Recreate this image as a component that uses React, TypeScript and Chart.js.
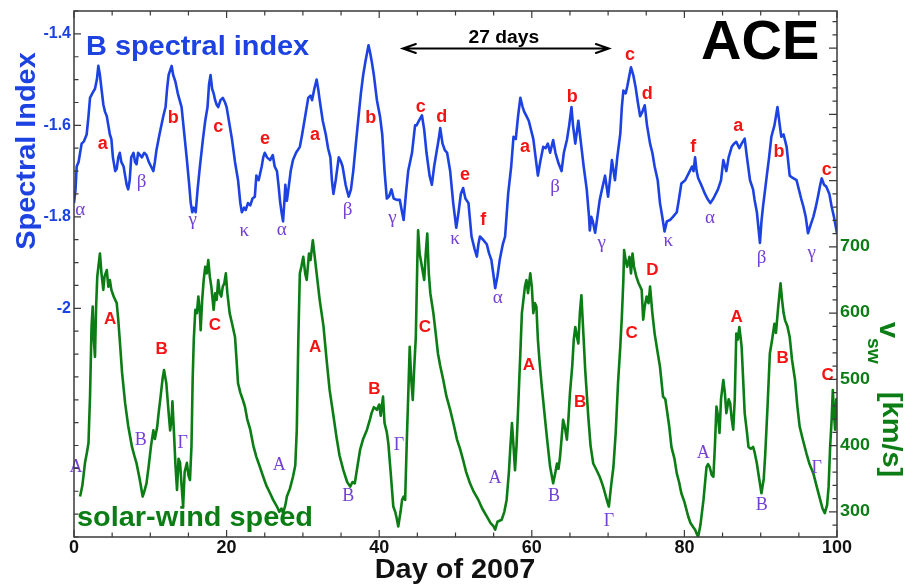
import React, { useEffect, useRef } from "react";
import { Chart, registerables } from "chart.js";

Chart.register(...registerables);

// Magnetic-field spectral index, [day of 2007, index]
const spectralSeries: [number, number][] = [
  [0.0, -1.77], [0.2, -1.74], [0.35, -1.69], [0.6, -1.68], [0.8, -1.66], [1.0, -1.64], [1.3, -1.635],
  [1.66, -1.62], [1.9, -1.58], [2.1, -1.54], [2.4, -1.53], [2.75, -1.52], [3.0, -1.5], [3.19, -1.47],
  [3.4, -1.49], [3.6, -1.52], [3.85, -1.555], [4.06, -1.57], [4.3, -1.58], [4.5, -1.6], [4.7, -1.62],
  [4.9, -1.63], [5.1, -1.67], [5.4, -1.7], [5.6, -1.695], [5.8, -1.67], [6.0, -1.66], [6.2, -1.68],
  [6.5, -1.69], [6.7, -1.71], [6.9, -1.73], [7.1, -1.74], [7.3, -1.72], [7.5, -1.67], [7.8, -1.66],
  [8.0, -1.68], [8.2, -1.685], [8.4, -1.66], [8.65, -1.665], [8.9, -1.67], [9.2, -1.66], [9.5, -1.665],
  [9.8, -1.68], [10.1, -1.69], [10.4, -1.7], [10.6, -1.68], [10.8, -1.655], [11.2, -1.62], [11.7, -1.58],
  [12.0, -1.56], [12.2, -1.52], [12.4, -1.49], [12.6, -1.48], [12.8, -1.47], [13.0, -1.49], [13.3, -1.505],
  [13.6, -1.53], [14.1, -1.56], [14.4, -1.61], [14.8, -1.676], [15.1, -1.73], [15.3, -1.77], [15.5, -1.79],
  [15.7, -1.78], [15.95, -1.79], [16.2, -1.74], [16.5, -1.69], [16.9, -1.63], [17.2, -1.59], [17.5, -1.56],
  [17.7, -1.51], [17.9, -1.49], [18.1, -1.52], [18.3, -1.53], [18.5, -1.545], [18.7, -1.555], [18.9, -1.56],
  [19.2, -1.545], [19.5, -1.54], [19.8, -1.55], [20.0, -1.56], [20.4, -1.6], [20.7, -1.63], [21.1, -1.68],
  [21.5, -1.72], [21.8, -1.77], [22.0, -1.79], [22.3, -1.78], [22.5, -1.785], [22.8, -1.77], [23.1, -1.775],
  [23.4, -1.76], [23.7, -1.756], [23.9, -1.71], [24.2, -1.72], [24.6, -1.69], [24.8, -1.67], [25.0, -1.66],
  [25.3, -1.67], [25.7, -1.676], [26.05, -1.665], [26.3, -1.69], [26.6, -1.7], [26.8, -1.73], [27.0, -1.765],
  [27.2, -1.79], [27.4, -1.81], [27.6, -1.76], [27.7, -1.73], [27.9, -1.765], [28.1, -1.74], [28.4, -1.7],
  [28.7, -1.676], [29.1, -1.66], [29.6, -1.647], [29.9, -1.62], [30.3, -1.58], [30.7, -1.54], [31.0, -1.535],
  [31.2, -1.545], [31.5, -1.52], [31.8, -1.5], [32.0, -1.52], [32.2, -1.545], [32.6, -1.59], [33.0, -1.62],
  [33.3, -1.65], [33.6, -1.67], [33.8, -1.72], [34.0, -1.75], [34.3, -1.72], [34.7, -1.67], [35.0, -1.68],
  [35.2, -1.69], [35.6, -1.73], [36.0, -1.756], [36.3, -1.74], [36.6, -1.7], [37.0, -1.63], [37.3, -1.58],
  [37.6, -1.53], [37.9, -1.49], [38.2, -1.46], [38.6, -1.425], [38.8, -1.44], [39.0, -1.458], [39.3, -1.49],
  [39.7, -1.545], [40.1, -1.58], [40.4, -1.62], [40.7, -1.7], [41.0, -1.76], [41.3, -1.755], [41.6, -1.74],
  [41.9, -1.76], [42.3, -1.763], [42.7, -1.763], [43.0, -1.79], [43.2, -1.807], [43.5, -1.75], [43.8, -1.7],
  [44.3, -1.66], [44.7, -1.6], [44.9, -1.6], [45.2, -1.59], [45.6, -1.578], [45.9, -1.61], [46.2, -1.66],
  [46.6, -1.71], [46.9, -1.73], [47.2, -1.69], [47.5, -1.66], [47.8, -1.63], [48.0, -1.606], [48.3, -1.64],
  [48.6, -1.654], [48.9, -1.66], [49.3, -1.7], [49.7, -1.77], [50.1, -1.824], [50.4, -1.79], [50.7, -1.75],
  [51.0, -1.737], [51.3, -1.76], [51.7, -1.77], [52.1, -1.843], [52.5, -1.87], [52.8, -1.887], [53.0, -1.86],
  [53.2, -1.843], [53.6, -1.85], [54.1, -1.86], [54.4, -1.88], [54.7, -1.894], [55.0, -1.93], [55.2, -1.956],
  [55.5, -1.93], [55.8, -1.894], [56.2, -1.86], [56.5, -1.843], [56.9, -1.75], [57.3, -1.69], [57.6, -1.625],
  [57.9, -1.63], [58.2, -1.58], [58.5, -1.54], [58.8, -1.56], [59.0, -1.57], [59.3, -1.58], [59.6, -1.59],
  [59.9, -1.61], [60.2, -1.63], [60.5, -1.67], [60.8, -1.71], [61.1, -1.68], [61.5, -1.647], [61.8, -1.65],
  [62.1, -1.64], [62.4, -1.66], [62.8, -1.632], [63.1, -1.66], [63.5, -1.683], [63.9, -1.7], [64.2, -1.66],
  [64.6, -1.632], [64.9, -1.6], [65.2, -1.56], [65.4, -1.6], [65.7, -1.64], [66.1, -1.59], [66.5, -1.647],
  [66.8, -1.69], [67.2, -1.74], [67.5, -1.8], [67.6, -1.83], [67.8, -1.8], [68.0, -1.81], [68.3, -1.835],
  [68.6, -1.8], [68.9, -1.763], [69.2, -1.74], [69.6, -1.71], [70.0, -1.756], [70.3, -1.71], [70.5, -1.676],
  [70.9, -1.72], [71.2, -1.67], [71.6, -1.618], [71.8, -1.56], [72.0, -1.524], [72.3, -1.53], [72.5, -1.516],
  [72.8, -1.49], [73.0, -1.473], [73.3, -1.49], [73.6, -1.516], [73.9, -1.55], [74.2, -1.58], [74.5, -1.57],
  [74.8, -1.556], [75.1, -1.6], [75.5, -1.64], [75.8, -1.66], [76.1, -1.69], [76.5, -1.72], [76.8, -1.77],
  [77.1, -1.8], [77.4, -1.832], [77.7, -1.81], [78.1, -1.807], [78.5, -1.8], [79.0, -1.79], [79.3, -1.76],
  [79.6, -1.727], [80.1, -1.72], [80.7, -1.7], [81.0, -1.69], [81.2, -1.7], [81.4, -1.67], [81.6, -1.7],
  [81.8, -1.715], [82.2, -1.73], [82.7, -1.75], [83.0, -1.76], [83.4, -1.77], [83.8, -1.76], [84.4, -1.74],
  [84.8, -1.72], [85.1, -1.676], [85.5, -1.7], [85.8, -1.67], [86.2, -1.647], [86.5, -1.64], [86.8, -1.636],
  [87.2, -1.65], [87.5, -1.64], [87.9, -1.629], [88.2, -1.67], [88.6, -1.72], [89.0, -1.74], [89.2, -1.763],
  [89.5, -1.79], [89.9, -1.857], [90.1, -1.81], [90.3, -1.778], [90.8, -1.71], [91.1, -1.67], [91.4, -1.625],
  [91.8, -1.6], [92.2, -1.56], [92.5, -1.6], [92.7, -1.625], [93.0, -1.62], [93.4, -1.647], [93.8, -1.71],
  [94.2, -1.715], [94.7, -1.72], [95.0, -1.74], [95.3, -1.76], [95.6, -1.778], [95.9, -1.8], [96.2, -1.836],
  [96.5, -1.82], [96.9, -1.8], [97.2, -1.78], [97.5, -1.756], [97.8, -1.73], [98.0, -1.716], [98.3, -1.73],
  [98.6, -1.734], [99.0, -1.75], [99.3, -1.778], [99.6, -1.8], [100.0, -1.836],
];

// Solar-wind speed, [day of 2007, km/s]
const windSeries: [number, number][] = [
  [0.8, 323], [1.1, 340], [1.44, 374], [1.7, 390], [1.9, 404], [2.0, 440], [2.1, 474], [2.3, 580],
  [2.45, 610], [2.6, 560], [2.75, 534], [2.9, 610], [3.05, 655], [3.2, 670], [3.4, 690], [3.6, 660],
  [3.84, 635], [4.0, 655], [4.3, 665], [4.5, 640], [4.7, 650], [4.9, 635], [5.2, 625], [5.6, 615],
  [5.8, 590], [6.0, 559], [6.3, 510], [6.7, 464], [7.1, 430], [7.6, 398], [7.9, 385], [8.2, 373],
  [8.6, 350], [9.0, 323], [9.2, 330], [9.5, 343], [9.8, 370], [10.1, 400], [10.4, 423], [10.6, 410],
  [10.9, 428], [11.1, 450], [11.3, 469], [11.6, 500], [11.8, 514], [12.1, 494], [12.4, 450], [12.6, 423],
  [12.8, 440], [12.9, 467], [13.1, 420], [13.3, 370], [13.5, 333], [13.7, 380], [13.9, 374], [14.1, 340],
  [14.3, 308], [14.5, 360], [14.8, 374], [15.0, 355], [15.2, 348], [15.4, 400], [15.55, 499], [15.7, 560],
  [15.9, 605], [16.1, 600], [16.3, 625], [16.5, 600], [16.6, 574], [16.8, 620], [17.0, 650], [17.2, 670],
  [17.4, 660], [17.6, 680], [17.8, 655], [18.0, 640], [18.3, 605], [18.5, 630], [18.7, 620], [18.9, 650],
  [19.1, 630], [19.3, 625], [19.5, 640], [19.7, 645], [19.9, 660], [20.1, 630], [20.4, 600], [20.7, 585],
  [21.1, 564], [21.3, 530], [21.5, 494], [21.8, 480], [22.1, 470], [22.4, 459], [22.7, 440], [23.1, 424],
  [23.5, 400], [23.9, 383], [24.3, 370], [24.8, 353], [25.2, 340], [25.7, 328], [26.1, 318], [26.6, 308],
  [26.9, 300], [27.2, 305], [27.4, 298], [27.7, 310], [27.9, 323], [28.3, 335], [28.7, 353], [29.0, 370],
  [29.2, 424], [29.4, 560], [29.6, 660], [29.8, 670], [30.05, 685], [30.3, 660], [30.5, 650], [30.8, 690],
  [31.0, 680], [31.3, 710], [31.5, 690], [31.8, 660], [32.2, 620], [32.7, 580], [33.1, 530], [33.5, 484],
  [34.0, 445], [34.4, 413], [34.8, 385], [35.3, 363], [35.8, 345], [36.2, 338], [36.5, 345], [36.8, 343],
  [37.1, 365], [37.5, 394], [37.9, 410], [38.4, 424], [38.8, 440], [39.0, 449], [39.3, 458], [39.7, 454],
  [40.0, 462], [40.2, 445], [40.5, 474], [40.7, 434], [41.0, 420], [41.2, 403], [41.5, 360], [41.85, 308],
  [42.1, 300], [42.3, 290], [42.5, 278], [42.8, 300], [43.0, 318], [43.2, 323], [43.4, 318], [43.6, 400],
  [43.8, 474], [44.0, 549], [44.2, 500], [44.4, 469], [44.6, 520], [44.8, 564], [45.0, 680], [45.1, 725],
  [45.3, 690], [45.6, 670], [45.9, 650], [46.1, 690], [46.3, 720], [46.5, 660], [46.7, 630], [47.1, 600],
  [47.4, 570], [47.7, 539], [48.0, 520], [48.4, 499], [48.8, 475], [49.3, 454], [49.8, 430], [50.2, 409],
  [50.6, 395], [51.0, 378], [51.4, 360], [51.9, 343], [52.4, 330], [53.0, 318], [53.5, 305], [54.1, 293],
  [54.6, 283], [55.0, 278], [55.2, 273], [55.5, 285], [56.05, 288], [56.4, 300], [56.7, 318], [57.0, 360],
  [57.2, 400], [57.4, 434], [57.6, 400], [57.8, 363], [58.0, 400], [58.2, 454], [58.5, 540], [58.7, 600],
  [58.9, 620], [59.1, 640], [59.3, 650], [59.5, 630], [59.8, 660], [60.0, 640], [60.2, 600], [60.4, 615],
  [60.6, 610], [60.8, 560], [61.0, 529], [61.3, 490], [61.7, 444], [62.0, 410], [62.4, 368], [62.8, 343],
  [63.1, 360], [63.3, 373], [63.5, 365], [63.7, 383], [63.9, 410], [64.1, 439], [64.3, 430], [64.6, 409],
  [64.8, 440], [65.0, 479], [65.3, 520], [65.5, 560], [65.7, 579], [65.9, 565], [66.1, 554], [66.3, 600],
  [66.5, 627], [66.8, 560], [67.0, 514], [67.4, 444], [67.7, 400], [68.05, 373], [68.4, 365], [68.9, 353],
  [69.3, 340], [69.6, 328], [69.9, 315], [70.1, 308], [70.4, 340], [70.7, 368], [71.0, 420], [71.3, 494],
  [71.6, 550], [71.8, 594], [72.0, 650], [72.1, 695], [72.3, 680], [72.5, 670], [72.8, 685], [73.0, 660],
  [73.2, 690], [73.4, 670], [73.7, 655], [74.0, 645], [74.4, 635], [74.6, 590], [74.8, 610], [75.05, 625],
  [75.3, 615], [75.5, 640], [75.8, 600], [76.1, 569], [76.5, 540], [76.8, 519], [77.2, 474], [77.5, 470],
  [77.7, 454], [78.0, 430], [78.3, 398], [78.7, 380], [79.0, 358], [79.3, 345], [79.6, 328], [80.0, 315],
  [80.5, 293], [80.8, 283], [81.1, 278], [81.4, 273], [81.8, 262], [82.1, 280], [82.5, 318], [82.9, 368],
  [83.1, 372], [83.3, 368], [83.6, 355], [83.8, 353], [84.0, 400], [84.2, 459], [84.4, 445], [84.6, 419],
  [84.8, 470], [85.1, 499], [85.3, 480], [85.5, 449], [85.8, 470], [86.0, 464], [86.2, 440], [86.4, 424],
  [86.6, 470], [86.8, 569], [87.0, 560], [87.2, 579], [87.4, 560], [87.5, 549], [87.7, 500], [87.9, 449],
  [88.2, 420], [88.4, 398], [88.7, 395], [89.0, 398], [89.2, 390], [89.5, 373], [89.8, 350], [90.1, 328],
  [90.4, 350], [90.6, 388], [90.9, 460], [91.2, 539], [91.5, 560], [91.8, 584], [92.0, 570], [92.3, 610],
  [92.6, 645], [92.8, 620], [93.0, 600], [93.2, 589], [93.5, 580], [93.8, 564], [94.1, 530], [94.5, 499],
  [94.8, 460], [95.1, 429], [95.5, 410], [96.0, 388], [96.4, 372], [96.9, 358], [97.3, 340], [97.8, 318],
  [98.1, 305], [98.4, 298], [98.7, 310], [98.9, 338], [99.1, 398], [99.3, 440], [99.45, 484], [99.6, 450],
  [99.75, 424], [99.9, 470], [100.0, 440],
];

// Axis extents and tick spacing
const dayRange = [0, 100];
const indexRange = [-2.5, -1.35];
const speedRange = [262, 1056];
const dayLabels = [0, 20, 40, 60, 80, 100];
const indexLabels = [-1.4, -1.6, -1.8, -2];
const speedLabels = [300, 400, 500, 600, 700];
const dayStep = 5;
const indexStep = 0.05;
const speedStep = 20;

// Structure labels on the spectral-index curve: [text, day, index, kind]
const indexMarks: [string, number, number, "r" | "g"][] = [
  ["α", 0.8, -1.786, "g"], ["a", 3.76, -1.64, "r"], ["β", 8.87, -1.723, "g"], ["b", 13.01, -1.585, "r"],
  ["γ", 15.56, -1.807, "g"], ["c", 18.91, -1.603, "r"], ["κ", 22.32, -1.83, "g"], ["e", 25.03, -1.629, "r"],
  ["α", 27.22, -1.829, "g"], ["a", 31.59, -1.622, "r"], ["β", 35.87, -1.786, "g"], ["b", 38.89, -1.583, "r"],
  ["γ", 41.72, -1.803, "g"], ["c", 45.44, -1.56, "r"], ["d", 48.19, -1.582, "r"], ["κ", 49.93, -1.849, "g"],
  ["e", 51.24, -1.709, "r"], ["f", 53.64, -1.807, "r"], ["α", 55.53, -1.977, "g"], ["a", 59.11, -1.647, "r"],
  ["β", 63.04, -1.734, "g"], ["b", 65.31, -1.538, "r"], ["γ", 69.16, -1.857, "g"], ["c", 72.87, -1.447, "r"],
  ["d", 75.14, -1.531, "r"], ["κ", 77.89, -1.852, "g"], ["f", 81.17, -1.647, "r"], ["α", 83.36, -1.803, "g"],
  ["a", 87.06, -1.601, "r"], ["β", 90.13, -1.89, "g"], ["b", 92.4, -1.658, "r"], ["γ", 96.68, -1.879, "g"],
  ["c", 98.65, -1.698, "r"],
];

// Structure labels on the solar-wind curve: [text, day, km/s, kind]
const speedMarks: [string, number, number, "r" | "g"][] = [
  ["A", 0.26, 368, "g"], ["A", 4.72, 590, "r"], ["B", 8.74, 408, "g"], ["B", 11.49, 546, "r"],
  ["Γ", 14.25, 403, "g"], ["C", 18.48, 581, "r"], ["A", 26.91, 370, "g"], ["A", 31.59, 548, "r"],
  ["B", 35.95, 323, "g"], ["B", 39.36, 485, "r"], ["Γ", 42.6, 401, "g"], ["C", 46.0, 579, "r"],
  ["A", 55.18, 350, "g"], ["A", 59.63, 521, "r"], ["B", 62.91, 324, "g"], ["B", 66.32, 465, "r"],
  ["Γ", 70.12, 285, "g"], ["C", 73.09, 569, "r"], ["D", 75.79, 664, "r"], ["A", 82.48, 388, "g"],
  ["A", 86.85, 593, "r"], ["B", 90.13, 310, "g"], ["B", 92.88, 532, "r"], ["Γ", 97.34, 366, "g"],
  ["C", 98.78, 506, "r"],
];

// Solar rotation period arrow (days) and its height on the index axis
const rotationArrow = [43.1, 70.1];
const rotationArrowLevel = -1.432;

const BLUE = "#1c42e2";
const GREEN = "#0b7d14";
const RED = "#f41414";
const PURPLE = "#7440d6";
const SANS = '"Liberation Sans", Arial, Helvetica, sans-serif';
const SERIF = '"Liberation Serif", "DejaVu Serif", "Times New Roman", serif';

function drawText(
  ctx: CanvasRenderingContext2D,
  str: string,
  x: number,
  y: number,
  font: string,
  color: string,
  align: CanvasTextAlign = "center",
  baseline: CanvasTextBaseline = "middle",
  sx = 1,
  rot = 0
) {
  ctx.save();
  ctx.translate(x, y);
  ctx.rotate(rot);
  ctx.scale(sx, 1);
  ctx.font = font;
  ctx.fillStyle = color;
  ctx.textAlign = align;
  ctx.textBaseline = baseline;
  ctx.fillText(str, 0, 0);
  ctx.restore();
}

function tickValues(min: number, max: number, step: number) {
  const out: number[] = [];
  for (let k = Math.ceil(min / step - 1e-9); k * step <= max + 1e-9; k++) out.push(k * step);
  return out;
}

const isLabel = (list: number[], v: number) => list.some((l) => Math.abs(l - v) < 1e-6);

const decorPlugin = {
  id: "decor",
  afterDatasetsDraw(chart: any) {
    const ctx: CanvasRenderingContext2D = chart.ctx;
    const { left, right, top, bottom } = chart.chartArea;
    const xs = chart.scales.x;
    const yi = chart.scales.yIndex;
    const yv = chart.scales.ySpeed;

    // structure letters
    for (const [t, d, v, k] of indexMarks) {
      const x = xs.getPixelForValue(d);
      const y = yi.getPixelForValue(v);
      if (k === "r") drawText(ctx, t, x, y, `bold 18px ${SANS}`, RED);
      else drawText(ctx, t, x, y, `19px ${SERIF}`, PURPLE);
    }
    for (const [t, d, v, k] of speedMarks) {
      const x = xs.getPixelForValue(d);
      const y = yv.getPixelForValue(v);
      if (k === "r") drawText(ctx, t, x, y, `bold 17px ${SANS}`, RED);
      else drawText(ctx, t, x, y, `18px ${SERIF}`, PURPLE);
    }

    // frame
    ctx.save();
    ctx.strokeStyle = "#3a3a3a";
    ctx.lineWidth = 1.5;
    ctx.strokeRect(left, top, right - left, bottom - top);

    // inward tick marks
    ctx.lineWidth = 1.2;
    ctx.beginPath();
    for (const d of tickValues(dayRange[0], dayRange[1], dayStep)) {
      const x = xs.getPixelForValue(d);
      const len = isLabel(dayLabels, d) ? 7 : 4.5;
      ctx.moveTo(x, bottom);
      ctx.lineTo(x, bottom - len);
      ctx.moveTo(x, top);
      ctx.lineTo(x, top + len);
    }
    for (const v of tickValues(indexRange[0], indexRange[1], indexStep)) {
      const y = yi.getPixelForValue(v);
      const len = isLabel(indexLabels, v) ? 7 : 4.5;
      ctx.moveTo(left, y);
      ctx.lineTo(left + len, y);
    }
    for (const v of tickValues(speedRange[0], speedRange[1], speedStep)) {
      const y = yv.getPixelForValue(v);
      const len = v % 100 === 0 ? 8 : 4.5;
      ctx.moveTo(right, y);
      ctx.lineTo(right - len, y);
    }
    ctx.stroke();
    ctx.restore();

    // tick labels
    for (const d of dayLabels) {
      drawText(ctx, String(d), xs.getPixelForValue(d), bottom + 11, `bold 18px ${SANS}`, "#111");
    }
    for (const v of indexLabels) {
      drawText(ctx, String(v), left - 3, yi.getPixelForValue(v), `bold 16px ${SANS}`, BLUE, "right");
    }
    for (const v of speedLabels) {
      drawText(ctx, String(v), right + 3, yv.getPixelForValue(v), `bold 16px ${SANS}`, GREEN, "left", "middle", 1.12);
    }

    // axis titles
    drawText(ctx, "Day of 2007", (left + right) / 2 - 0.5, bottom + 41, `bold 27px ${SANS}`, "#111", "center", "alphabetic", 1.07);
    drawText(ctx, "Spectral Index", 35, top + 140, `bold 27px ${SANS}`, BLUE, "center", "alphabetic", 1.07, -Math.PI / 2);
    drawText(ctx, "v", right + 43, top + 311, `bold 27px ${SANS}`, GREEN, "left", "alphabetic", 1.07, Math.PI / 2);
    drawText(ctx, "sw", right + 31, top + 327, `bold 18px ${SANS}`, GREEN, "left", "alphabetic", 1.07, Math.PI / 2);
    drawText(ctx, "[km/s]", right + 46, top + 381, `bold 27px ${SANS}`, GREEN, "left", "alphabetic", 1.07, Math.PI / 2);

    // in-plot headings
    drawText(ctx, "B spectral index", left + 12, top + 44, `bold 27px ${SANS}`, BLUE, "left", "alphabetic", 1.07);
    drawText(ctx, "solar-wind speed", left + 3, bottom - 11, `bold 27px ${SANS}`, GREEN, "left", "alphabetic", 1.07);
    drawText(ctx, "ACE", right - 136, top + 48, `bold 56px ${SANS}`, "#000", "left", "alphabetic");

    // 27-day arrow
    const ax0 = xs.getPixelForValue(rotationArrow[0]);
    const ax1 = xs.getPixelForValue(rotationArrow[1]);
    const ay = yi.getPixelForValue(rotationArrowLevel);
    ctx.save();
    ctx.strokeStyle = "#000";
    ctx.lineWidth = 2;
    ctx.lineCap = "round";
    ctx.beginPath();
    ctx.moveTo(ax0, ay);
    ctx.lineTo(ax1, ay);
    ctx.moveTo(ax0 + 13, ay - 4.5);
    ctx.lineTo(ax0, ay);
    ctx.lineTo(ax0 + 13, ay + 4.5);
    ctx.moveTo(ax1 - 13, ay - 4.5);
    ctx.lineTo(ax1, ay);
    ctx.lineTo(ax1 - 13, ay + 4.5);
    ctx.stroke();
    ctx.restore();
    drawText(ctx, "27 days", (ax0 + ax1) / 2 - 2, ay - 6, `bold 18px ${SANS}`, "#000", "center", "alphabetic", 1.07);
  },
};

export default function App() {
  const canvasRef = useRef<HTMLCanvasElement | null>(null);

  useEffect(() => {
    const canvas = canvasRef.current;
    if (!canvas) return;
    const chart = new Chart(canvas, {
      type: "line",
      data: {
        datasets: [
          {
            label: "B spectral index",
            data: spectralSeries.map(([x, y]) => ({ x, y })),
            yAxisID: "yIndex",
            borderColor: BLUE,
            borderWidth: 2.6,
            pointRadius: 0,
            tension: 0,
            borderJoinStyle: "round",
          },
          {
            label: "solar-wind speed",
            data: windSeries.map(([x, y]) => ({ x, y })),
            yAxisID: "ySpeed",
            borderColor: GREEN,
            borderWidth: 2.6,
            pointRadius: 0,
            tension: 0,
            borderJoinStyle: "round",
          },
        ],
      },
      options: {
        responsive: false,
        animation: false,
        devicePixelRatio: 1,
        layout: { padding: { top: 11, left: 0, right: 0, bottom: 0 } },
        plugins: { legend: { display: false }, tooltip: { enabled: false } },
        scales: {
          x: {
            type: "linear",
            position: "bottom",
            min: dayRange[0],
            max: dayRange[1],
            grid: { display: false },
            border: { display: false },
            ticks: { display: false },
            afterFit: (s: any) => {
              s.height = 47;
            },
          },
          yIndex: {
            type: "linear",
            position: "left",
            min: indexRange[0],
            max: indexRange[1],
            grid: { display: false },
            border: { display: false },
            ticks: { display: false },
            afterFit: (s: any) => {
              s.width = 74;
            },
          },
          ySpeed: {
            type: "linear",
            position: "right",
            min: speedRange[0],
            max: speedRange[1],
            grid: { display: false },
            border: { display: false },
            ticks: { display: false },
            afterFit: (s: any) => {
              s.width = 67;
            },
          },
        },
      } as any,
      plugins: [decorPlugin],
    });
    return () => chart.destroy();
  }, []);

  return (
    <div style={{ position: "fixed", left: 0, top: 0, width: 904, height: 584, background: "#fff" }}>
      <canvas ref={canvasRef} width={904} height={584} style={{ display: "block" }} />
    </div>
  );
}
